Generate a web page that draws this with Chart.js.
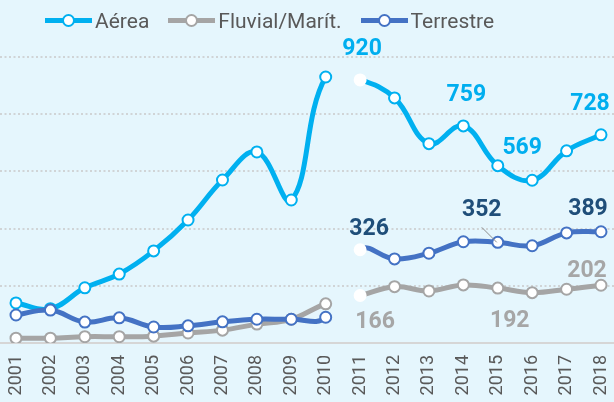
<!DOCTYPE html>
<html>
<head>
<meta charset="utf-8">
<script src="https://cdn.jsdelivr.net/npm/chart.js@4.4.1/dist/chart.umd.min.js"></script>
<style>
  html, body { margin: 0; padding: 0; background: #e5f6fd; }
  #wrap { position: relative; width: 614px; height: 402px; }
  #legend {
    position: absolute; left: 0; top: 0; height: 41px;
    display: flex; align-items: center; padding-left: 45px;
    font-family: Roboto; font-size: 21px; color: #595959;
  }
  .item { display: flex; align-items: center; margin-right: 19px; }
  .sym { position: relative; width: 47px; height: 5px; margin-right: 3px; }
  .sym i {
    position: absolute; left: 17px; top: -4px; width: 9px; height: 9px;
    border: 2px solid; border-radius: 50%; background: #fff;
  }
</style>
</head>
<body>
<div id="wrap">
  <canvas id="chart" width="614" height="402"></canvas>
  <div id="legend"></div>
</div>
<script>
// ---------- data ----------
const years = ["2001", "2002", "2003", "2004", "2005", "2006", "2007", "2008", "2009",
  "2010", "2011", "2012", "2013", "2014", "2015", "2016", "2017", "2018"];
const aerea = [140, 120, 193, 241, 322, 430, 570, 668, 500, 930,
  920, 857, 697, 759, 620, 569, 672, 728];
const fluvial = [17, 17, 22, 22, 24, 35, 45, 66, 83, 137,
  166, 197, 182, 203, 192, 176, 188, 202];
const terrestre = [98, 115, 73, 88, 56, 60, 74, 83, 83, 90,
  326, 294, 314, 354, 352, 340, 385, 389];
const gridValues = [200, 400, 600, 800, 1000];

// points that carry a value label (index into years)
const aereaLabels = [10, 13, 15, 17];
const fluvialLabels = [10, 14, 17];
const terrestreLabels = [10, 14, 17];

// the series break between 2010 and 2011
const breakIndex = 9;

// ---------- colors ----------
const cAerea = "#00b0f0";
const cFluvial = "#a5a5a5";
const cTerrestre = "#4472c4";

// label offsets from the point (dx, dy of the text centre)
const labelStyle = [
  { color: "#00aeef", pos: { 10: [2, -33], 13: [3, -33], 15: [-10, -34], 17: [-11, -33] } },
  { color: "#a6a6a6", pos: { 10: [15, 24], 14: [12, 31], 17: [-14, -16] } },
  { color: "#1f4e79", pos: { 10: [9, -23], 14: [-16, -34], 17: [-13, -25] }, leader: 14 }
];

function lineSet(label, data, color, order) {
  return {
    label: label,
    data: data,
    order: order,
    borderColor: color,
    backgroundColor: color,
    borderWidth: 5,
    tension: 0.4,
    pointRadius: 5.5,
    pointHoverRadius: 5.5,
    pointBorderWidth: 2,
    pointBackgroundColor: "#fff",
    pointBorderColor: data.map((v, i) => i === breakIndex + 1 ? "#fff" : color),
    segment: {
      borderColor: c => c.p0DataIndex === breakIndex ? "transparent" : undefined
    }
  };
}

// dotted grid + baseline across the whole width
const fullGrid = {
  id: "fullGrid",
  beforeDatasetsDraw(chart) {
    const ctx = chart.ctx;
    const y = chart.scales.y;
    ctx.save();
    ctx.strokeStyle = "#c9c9c9";
    ctx.lineWidth = 1.5;
    ctx.setLineDash([2, 2.5]);
    gridValues.forEach(v => {
      const py = Math.round(y.getPixelForValue(v));
      ctx.beginPath();
      ctx.moveTo(0, py);
      ctx.lineTo(chart.width, py);
      ctx.stroke();
    });
    ctx.setLineDash([]);
    ctx.strokeStyle = "#d6d6d6";
    ctx.lineWidth = 2;
    const b = Math.round(y.getPixelForValue(0));
    ctx.beginPath();
    ctx.moveTo(0, b);
    ctx.lineTo(chart.width, b);
    ctx.stroke();
    ctx.restore();
  }
};

// value labels
const valueLabels = {
  id: "valueLabels",
  afterDatasetsDraw(chart) {
    const ctx = chart.ctx;
    const lists = [aereaLabels, fluvialLabels, terrestreLabels];
    ctx.save();
    ctx.font = "bold 23px Roboto";
    ctx.textAlign = "center";
    ctx.textBaseline = "alphabetic";
    lists.forEach((list, d) => {
      const meta = chart.getDatasetMeta(d);
      const st = labelStyle[d];
      list.forEach(i => {
        const pt = meta.data[i];
        const off = st.pos[i];
        if (st.leader === i) {
          ctx.strokeStyle = "#8c8c8c";
          ctx.lineWidth = 1;
          ctx.beginPath();
          ctx.moveTo(pt.x - 16, pt.y - 15);
          ctx.lineTo(pt.x - 1, pt.y);
          ctx.stroke();
        }
        ctx.fillStyle = st.color;
        ctx.fillText(chart.data.datasets[d].data[i], pt.x + off[0], pt.y + off[1] + 8);
      });
    });
    ctx.restore();
  }
};

Chart.defaults.font.family = "Roboto";

const chart = new Chart(document.getElementById("chart"), {
  type: "line",
  data: {
    labels: years,
    datasets: [
      lineSet("Aérea", aerea, cAerea, 3),
      lineSet("Fluvial/Marít.", fluvial, cFluvial, 2),
      lineSet("Terrestre", terrestre, cTerrestre, 1)
    ]
  },
  options: {
    responsive: false,
    animation: false,
    layout: { padding: { top: 57, left: 16, right: 13, bottom: 0 } },
    plugins: {
      legend: { display: false },
      tooltip: { enabled: false }
    },
    scales: {
      x: {
        offset: false,
        grid: { display: false, drawTicks: false },
        border: { display: false },
        ticks: {
          autoSkip: false,
          minRotation: 90,
          maxRotation: 90,
          padding: 12,
          color: "#595959",
          font: { size: 18 }
        },
        afterFit: s => {
          s.height = 59;
          s.paddingLeft = 0;
          s.paddingRight = 0;
        }
      },
      y: {
        display: false,
        min: 0,
        max: 1000
      }
    }
  },
  plugins: [fullGrid, valueLabels]
});

// legend as html, built from the datasets
const legend = document.getElementById("legend");
chart.data.datasets.forEach(ds => {
  const item = document.createElement("div");
  item.className = "item";
  item.innerHTML = '<span class="sym" style="background:' + ds.borderColor +
    '"><i style="border-color:' + ds.borderColor + '"></i></span>';
  const t = document.createElement("span");
  t.textContent = ds.label;
  item.appendChild(t);
  legend.appendChild(item);
});
</script>
</body>
</html>
